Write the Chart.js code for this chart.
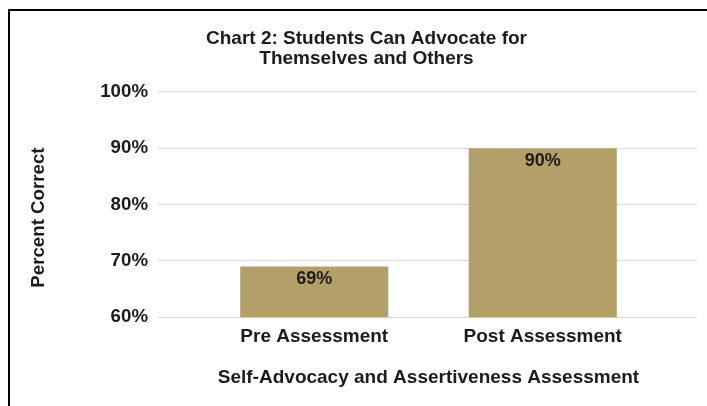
<!DOCTYPE html>
<html>
<head>
<meta charset="utf-8">
<script src="https://cdn.jsdelivr.net/npm/chart.js@4.4.1/dist/chart.umd.min.js"></script>
<style>
  html, body { margin: 0; padding: 0; background: #fff; }
  #marco {
    position: absolute; left: 8px; top: 9px; right: 0; bottom: 0;
    border-left: 2px solid #000; border-top: 2px solid #000;
  }
  #grafico { position: absolute; left: 0; top: 0; }
</style>
</head>
<body>
<div id="marco"></div>
<canvas id="grafico" width="707" height="406"></canvas>
<script>
// Datos del gráfico
const categorias = ['Pre Assessment', 'Post Assessment'];
const valores = [69, 90];
const ticksY = [60, 70, 80, 90, 100];
const titulo = ['Chart 2: Students Can Advocate for', 'Themselves and Others'];
const tituloX = 'Self-Advocacy and Assertiveness Assessment';
const tituloY = 'Percent Correct';

const fuente = "'Liberation Sans', Arial, sans-serif";
const colorTexto = '#1c1c1c';
const colorGrid = '#dadada';

// Etiquetas dentro de la parte alta de cada barra
const etiquetasBarras = {
    id: 'etiquetasBarras',
    afterDatasetsDraw(chart) {
        const ctx = chart.ctx;
        const meta = chart.getDatasetMeta(0);
        ctx.save();
        ctx.font = 'bold 18px ' + fuente;
        ctx.fillStyle = colorTexto;
        ctx.textAlign = 'center';
        ctx.textBaseline = 'middle';
        meta.data.forEach((barra, i) => {
            ctx.fillText(valores[i] + '%', barra.x, barra.y + 12.5);
        });
        ctx.restore();
    }
};

new Chart(document.getElementById('grafico'), {
    type: 'bar',
    data: {
        labels: categorias,
        datasets: [{
            data: valores,
            backgroundColor: '#b3a068',
            borderWidth: 0,
            barPercentage: 1,
            categoryPercentage: 0.648
        }]
    },
    options: {
        responsive: false,
        animation: false,
        devicePixelRatio: 1,
        layout: { padding: { left: 36, right: 10, top: 0, bottom: 0 } },
        plugins: {
            legend: { display: false },
            tooltip: { enabled: false },
            title: {
                display: true,
                text: titulo,
                color: colorTexto,
                font: { family: fuente, size: 19, weight: 'bold', lineHeight: 1.05 },
                padding: { top: 29, bottom: 23 }
            }
        },
        scales: {
            x: {
                grid: { display: false, drawTicks: false },
                border: { display: false },
                ticks: {
                    color: colorTexto,
                    padding: 8,
                    font: { family: fuente, size: 19, weight: 'bold' }
                },
                title: {
                    display: true,
                    text: tituloX,
                    color: colorTexto,
                    font: { family: fuente, size: 19, weight: 'bold' },
                    padding: { top: 0, bottom: 17 }
                },
                afterFit: (eje) => { eje.height = 88.7; }
            },
            y: {
                min: ticksY[0],
                max: ticksY[ticksY.length - 1],
                afterBuildTicks: (eje) => { eje.ticks = ticksY.map(v => ({ value: v })); },
                grid: { color: colorGrid, lineWidth: 1, tickLength: 42 },
                border: { display: false },
                ticks: {
                    color: colorTexto,
                    padding: 10,
                    font: { family: fuente, size: 18.7, weight: 'bold' },
                    callback: (v) => v + '%'
                },
                title: {
                    display: true,
                    // espacios finales para bajar el texto como en el original
                    text: tituloY + '     ',
                    color: colorTexto,
                    font: { family: fuente, size: 18.7, weight: 'bold', lineHeight: 0.27 },
                    padding: { top: 0, bottom: 0 }
                },
                afterFit: (eje) => { eje.width = 164; }
            },
            // eje derecho solo para prolongar las líneas de la cuadrícula
            y2: {
                position: 'right',
                min: ticksY[0],
                max: ticksY[ticksY.length - 1],
                afterBuildTicks: (eje) => { eje.ticks = ticksY.map(v => ({ value: v })); },
                grid: { color: colorGrid, lineWidth: 1, tickLength: 40, drawOnChartArea: false },
                border: { display: false },
                ticks: { display: false },
                afterFit: (eje) => { eje.width = 40; }
            }
        }
    },
    plugins: [etiquetasBarras]
});
</script>
</body>
</html>
